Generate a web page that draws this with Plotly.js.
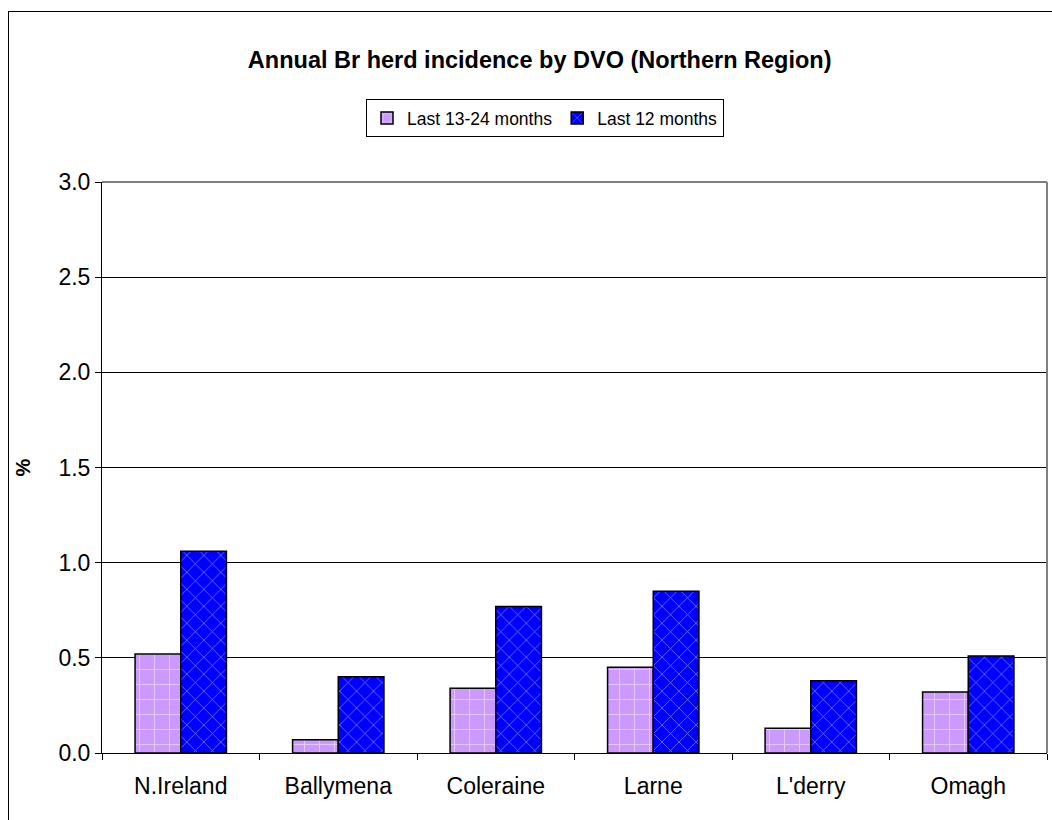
<!DOCTYPE html>
<html>
<head>
<meta charset="utf-8">
<script src="https://cdn.plot.ly/plotly-3.0.1.min.js"></script>
<style>
  body { margin: 0; overflow: hidden; background: #fff; }
  #chart { width: 1052px; height: 820px; }
  #frame {
    position: absolute; left: 8px; top: 11px;
    width: 1100px; height: 900px;
    border: 1px solid #000; pointer-events: none;
  }
</style>
</head>
<body>
<div id="chart"></div>
<div id="frame"></div>
<script>
// DATA
const regions = ['N.Ireland', 'Ballymena', 'Coleraine', 'Larne', "L'derry", 'Omagh']
const prevYear = [0.52, 0.07, 0.34, 0.45, 0.13, 0.32]
const lastYear = [1.06, 0.40, 0.77, 0.85, 0.38, 0.51]
const yTicks = [0, 0.5, 1.0, 1.5, 2.0, 2.5, 3.0]

const fontFamily = 'Liberation Sans, Arial, sans-serif'

const prevTrace = {
  x: regions,
  y: prevYear,
  type: 'bar',
  name: 'Last 13-24 months',
  marker: {
    color: '#CC99FF',
    line: { color: '#000', width: 1.5 },
    pattern: { shape: '+', fgcolor: '#fff', bgcolor: '#CC99FF', size: 15, solidity: 0.12, fillmode: 'overlay' },
  },
}

const lastTrace = {
  x: regions,
  y: lastYear,
  type: 'bar',
  name: 'Last 12 months',
  marker: {
    color: '#0000FF',
    line: { color: '#000', width: 1.5 },
    pattern: { shape: 'x', fgcolor: '#fff', bgcolor: '#0000FF', size: 12, solidity: 0.12, fillmode: 'overlay' },
  },
}

const layout = {
  width: 1052,
  height: 820,
  margin: { l: 102, r: 5, t: 182, b: 67 },
  paper_bgcolor: '#fff',
  plot_bgcolor: '#fff',
  font: { family: fontFamily, color: '#000' },
  title: {
    text: '<b>Annual Br herd incidence by DVO (Northern Region)</b>',
    font: { size: 23.5, family: fontFamily, color: '#000' },
    xref: 'container',
    yref: 'container',
    x: 0.513,
    y: 1 - 60 / 820,
    xanchor: 'center',
    yanchor: 'middle',
  },
  showlegend: true,
  legend: {
    orientation: 'h',
    xref: 'container',
    yref: 'container',
    x: 545 / 1052,
    y: 1 - 99 / 820,
    xanchor: 'center',
    yanchor: 'top',
    bordercolor: '#000',
    borderwidth: 1,
    font: { size: 17.5 },
    itemwidth: 30,
    tracegroupgap: 0,
  },
  barmode: 'group',
  bargap: 0.42,
  bargroupgap: 0,
  xaxis: {
    showline: true,
    linecolor: '#000',
    linewidth: 1,
    ticks: 'outside',
    tickson: 'boundaries',
    ticklen: 6,
    tickcolor: '#000',
    tickfont: { size: 23 },
    ticklabelstandoff: 12,
    showgrid: false,
  },
  yaxis: {
    range: [0, 3],
    tickvals: yTicks,
    tickformat: '.1f',
    showline: true,
    linecolor: '#000',
    linewidth: 1,
    ticks: 'outside',
    ticklen: 6,
    tickcolor: '#000',
    tickfont: { size: 23 },
    showgrid: true,
    gridcolor: '#000',
    gridwidth: 1,
    zeroline: false,
    title: { text: '<b>%</b>', font: { size: 20 }, standoff: 22 },
  },
  shapes: [
    { type: 'line', xref: 'paper', yref: 'paper', x0: 0, x1: 1, y0: 1, y1: 1, line: { color: '#808080', width: 2 } },
    { type: 'line', xref: 'paper', yref: 'paper', x0: 1, x1: 1, y0: 0, y1: 1, line: { color: '#808080', width: 2 } },
  ],
}

Plotly.newPlot('chart', [prevTrace, lastTrace], layout, { displayModeBar: false })
</script>
</body>
</html>
